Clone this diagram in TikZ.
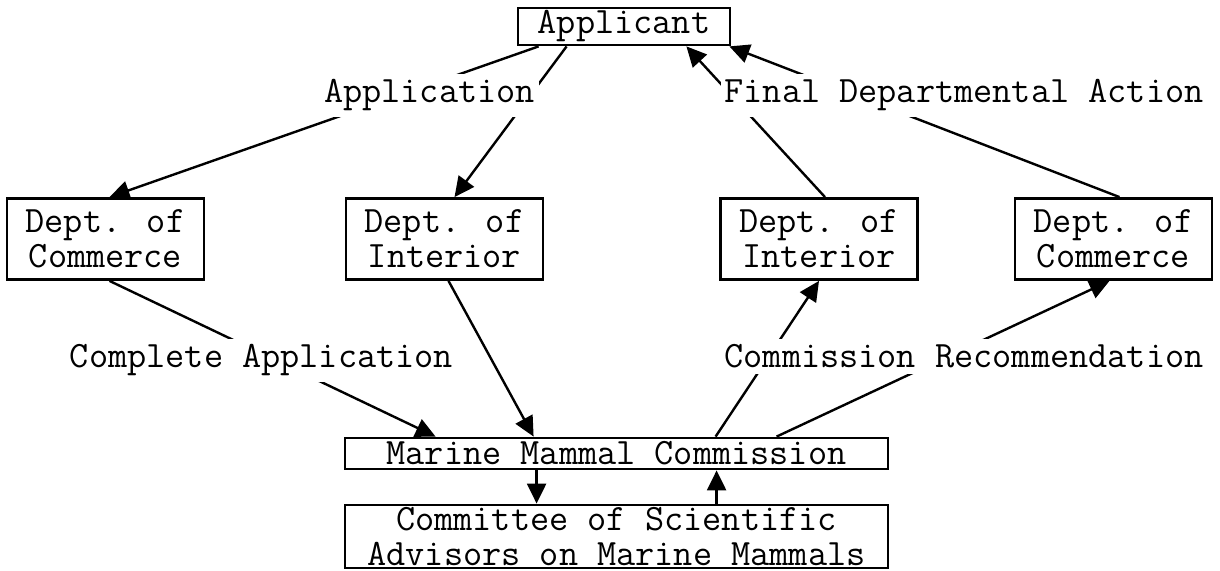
\documentclass[tikz,border=0pt]{standalone}
\usepackage{fontspec}
\usetikzlibrary{arrows.meta}

\tikzset{
  box/.style={draw, line width=1.4pt, inner sep=0pt, align=center},
  dept/.style={box, minimum width=98.5pt, minimum height=40.5pt},
  lbl/.style={fill=white, inner xsep=2pt, inner ysep=3pt},
  flow/.style={line width=1.2pt, -{Triangle[length=10pt,width=9.5pt]}}
}

\begin{document}
\begin{tikzpicture}[x=0.5pt, y=-0.5pt, font=\ttfamily\fontsize{18.6}{17.5}\selectfont]
\useasboundingbox[fill=white] (0,0) rectangle (1220,571);

% boxes
\node[box, minimum width=106pt, minimum height=18.5pt] (app) at (624,26.5) {Applicant};
\node[dept] (comL) at (105.5,239) {Dept. of\\Commerce};
\node[dept] (intL) at (444.5,239) {Dept. of\\Interior};
\node[dept] (intR) at (819,239) {Dept. of\\Interior};
\node[dept] (comR) at (1113.5,239) {Dept. of\\Commerce};
\node[box, minimum width=271.5pt, minimum height=15.5pt] (mmc) at (616.5,453.5) {Marine Mammal Commission};
\node[box, minimum width=271.5pt, minimum height=31.5pt] (csa) at (616.5,536.5) {Committee of Scientific\\Advisors on Marine Mammals};

% application goes down
\draw[flow] ([xshift=11pt]app.south west) -- ([xshift=2pt]comL.north);
\draw[flow] ([xshift=25pt]app.south west) -- ([xshift=5pt]intL.north);
\draw[flow] ([xshift=2pt]comL.south) -- ([xshift=46pt]mmc.north west);
\draw[flow] ([xshift=2pt]intL.south) -- ([xshift=95pt]mmc.north west);

% advisors
\draw[flow] ([xshift=96.5pt]mmc.south west) -- ([xshift=96.5pt]csa.north west);
\draw[flow] ([xshift=186.5pt]csa.north west) -- ([xshift=186.5pt]mmc.south west);

% recommendation and action go back up
\draw[flow] ([xshift=186pt]mmc.north west) -- (intR.south);
\draw[flow] ([xshift=216.5pt]mmc.north west) -- ([xshift=-2pt]comR.south);
\draw[flow] ([xshift=3pt]intR.north) -- ([xshift=-22.5pt]app.south east);
\draw[flow] ([xshift=3pt]comR.north) -- ([xshift=-1pt]app.south east);

% labels
\node[lbl, anchor=base] (application) at (429.5,103) {Application};
\node[lbl, anchor=base] (final) at (964,103) {Final Departmental Action};
\node[lbl, anchor=base] (complete) at (261.5,368) {Complete Application};
\node[lbl, anchor=base] (recommend) at (964,368) {Commission Recommendation};

\end{tikzpicture}
\end{document}
